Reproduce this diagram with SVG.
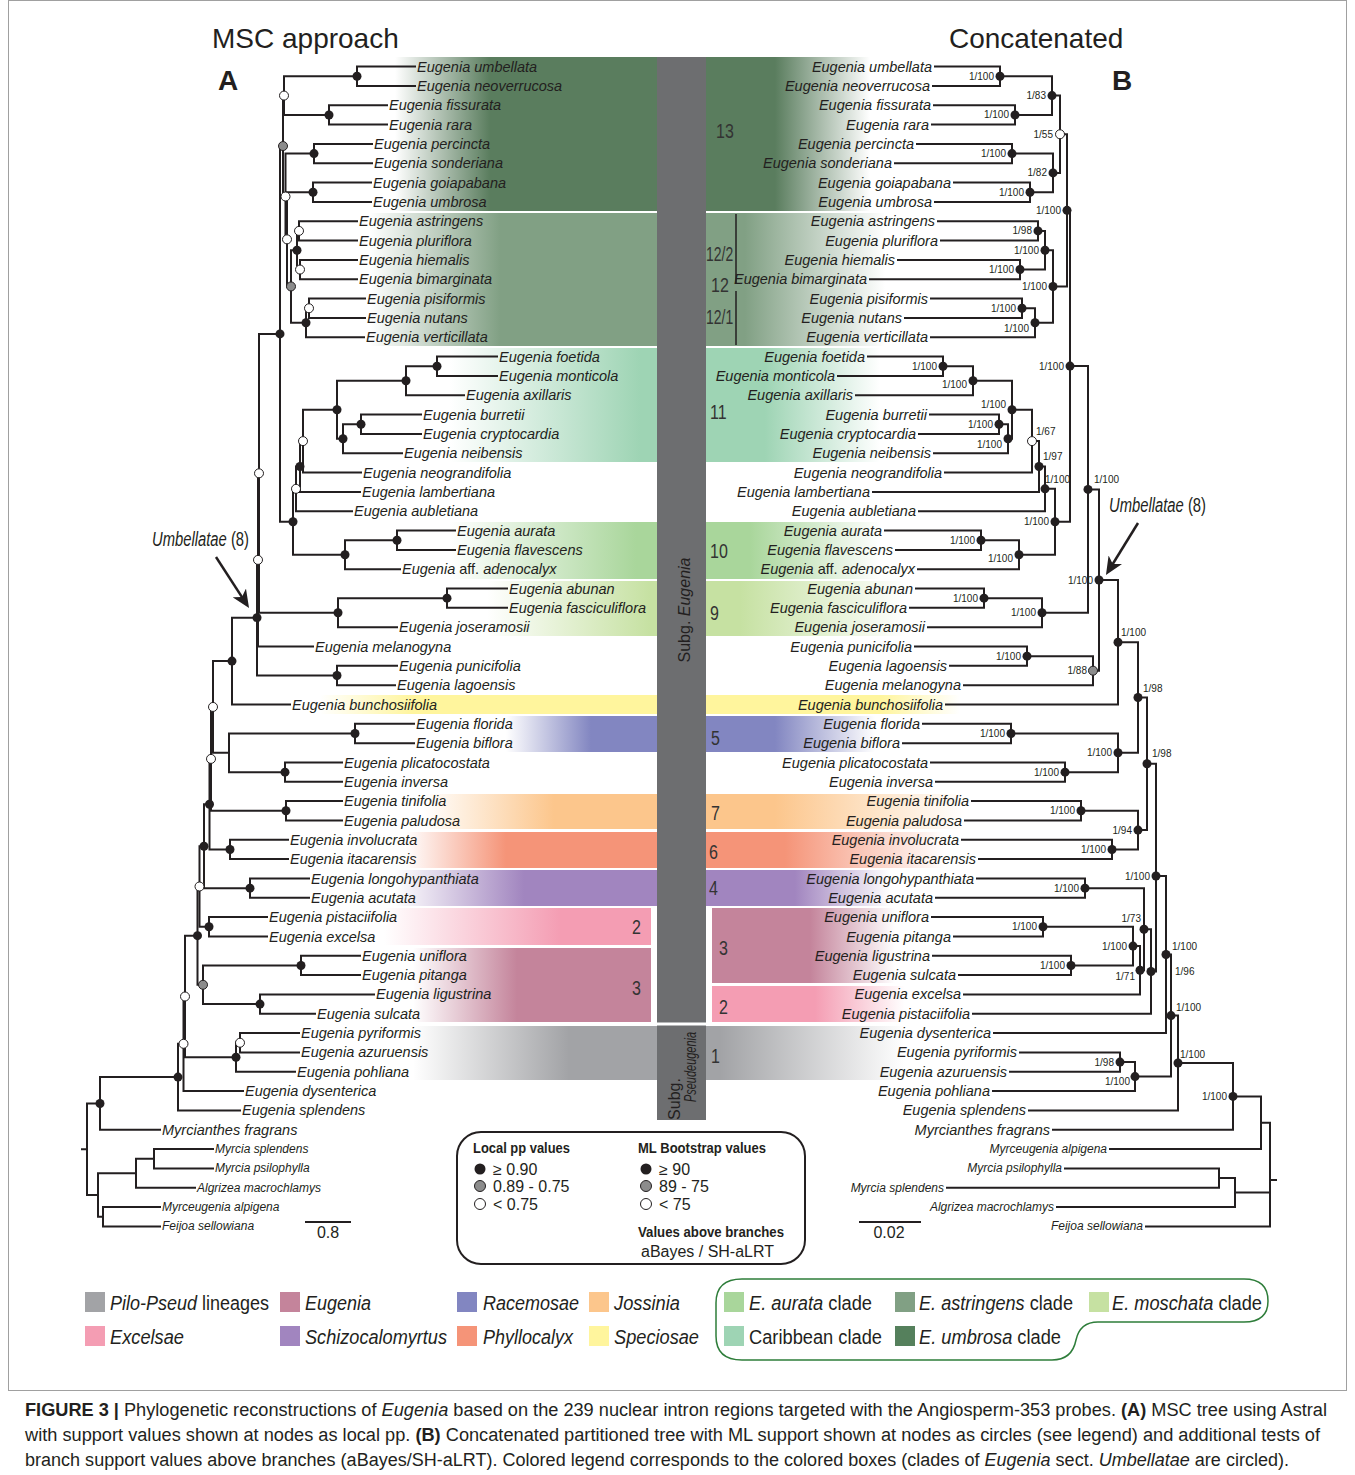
<svg xmlns="http://www.w3.org/2000/svg" width="1355" height="1475" viewBox="0 0 1355 1475">
<defs>
<style>
.ln{fill:none;stroke:#231f20;stroke-width:2;stroke-linecap:square;stroke-linejoin:miter}
.tx{font-family:'Liberation Sans',Arial,sans-serif;font-style:italic;font-size:14.5px;fill:#231f20}
.te{text-anchor:end}
.sm{font-size:12px}
.sv{font-family:'Liberation Sans',Arial,sans-serif;font-size:10px;fill:#231f20;text-anchor:end}
.svs{text-anchor:start}
.nb{fill:#231f20}
.ng{fill:#8c8c8c;stroke:#231f20;stroke-width:1}
.nw{fill:#fff;stroke:#231f20;stroke-width:1}
.num{font-family:'Liberation Sans',Arial,sans-serif;font-size:20px;fill:#333}
.hd{font-family:'Liberation Sans',Arial,sans-serif;font-size:28px;fill:#231f20}
.lg{font-family:'Liberation Sans',Arial,sans-serif;font-size:20px;fill:#231f20}
.lb{font-family:'Liberation Sans',Arial,sans-serif;font-size:15px;font-weight:bold;fill:#231f20}
.lr{font-family:'Liberation Sans',Arial,sans-serif;font-size:16px;fill:#231f20}
.it{font-style:italic}
.cap{font-family:'Liberation Sans',Arial,sans-serif;font-size:18px;fill:#231f20}
</style>
<linearGradient id="gl-umb" gradientUnits="userSpaceOnUse" x1="395" y1="0" x2="490" y2="0"><stop offset="0" stop-color="#5a7d5e" stop-opacity="0"/><stop offset="1" stop-color="#5a7d5e"/></linearGradient>
<linearGradient id="gl-ast" gradientUnits="userSpaceOnUse" x1="370" y1="0" x2="500" y2="0"><stop offset="0" stop-color="#81a084" stop-opacity="0"/><stop offset="1" stop-color="#81a084"/></linearGradient>
<linearGradient id="gl-car" gradientUnits="userSpaceOnUse" x1="450" y1="0" x2="640" y2="0"><stop offset="0" stop-color="#9ed4b4" stop-opacity="0"/><stop offset="1" stop-color="#9ed4b4"/></linearGradient>
<linearGradient id="gl-aur" gradientUnits="userSpaceOnUse" x1="450" y1="0" x2="636" y2="0"><stop offset="0" stop-color="#a9d69b" stop-opacity="0"/><stop offset="1" stop-color="#a9d69b"/></linearGradient>
<linearGradient id="gl-mos" gradientUnits="userSpaceOnUse" x1="487" y1="0" x2="650" y2="0"><stop offset="0" stop-color="#c6e1a2" stop-opacity="0"/><stop offset="1" stop-color="#c6e1a2"/></linearGradient>
<linearGradient id="gl-spe" gradientUnits="userSpaceOnUse" x1="320" y1="0" x2="413" y2="0"><stop offset="0" stop-color="#fff59d" stop-opacity="0"/><stop offset="1" stop-color="#fff59d"/></linearGradient>
<linearGradient id="gl-rac" gradientUnits="userSpaceOnUse" x1="506" y1="0" x2="591" y2="0"><stop offset="0" stop-color="#8286c1" stop-opacity="0"/><stop offset="1" stop-color="#8286c1"/></linearGradient>
<linearGradient id="gl-jos" gradientUnits="userSpaceOnUse" x1="424" y1="0" x2="554" y2="0"><stop offset="0" stop-color="#fcc68c" stop-opacity="0"/><stop offset="1" stop-color="#fcc68c"/></linearGradient>
<linearGradient id="gl-phy" gradientUnits="userSpaceOnUse" x1="406" y1="0" x2="506" y2="0"><stop offset="0" stop-color="#f59478" stop-opacity="0"/><stop offset="1" stop-color="#f59478"/></linearGradient>
<linearGradient id="gl-sch" gradientUnits="userSpaceOnUse" x1="395" y1="0" x2="524" y2="0"><stop offset="0" stop-color="#a185bf" stop-opacity="0"/><stop offset="1" stop-color="#a185bf"/></linearGradient>
<linearGradient id="gl-exc" gradientUnits="userSpaceOnUse" x1="384" y1="0" x2="561" y2="0"><stop offset="0" stop-color="#f49db3" stop-opacity="0"/><stop offset="1" stop-color="#f49db3"/></linearGradient>
<linearGradient id="gl-eug" gradientUnits="userSpaceOnUse" x1="413" y1="0" x2="517" y2="0"><stop offset="0" stop-color="#c4849b" stop-opacity="0"/><stop offset="1" stop-color="#c4849b"/></linearGradient>
<linearGradient id="gl-pil" gradientUnits="userSpaceOnUse" x1="413" y1="0" x2="569" y2="0"><stop offset="0" stop-color="#a2a3a6" stop-opacity="0"/><stop offset="1" stop-color="#a2a3a6"/></linearGradient>
<linearGradient id="gr-umb" gradientUnits="userSpaceOnUse" x1="775" y1="0" x2="870" y2="0"><stop offset="0" stop-color="#5a7d5e"/><stop offset="1" stop-color="#5a7d5e" stop-opacity="0"/></linearGradient>
<linearGradient id="gr-ast" gradientUnits="userSpaceOnUse" x1="745" y1="0" x2="885" y2="0"><stop offset="0" stop-color="#81a084"/><stop offset="1" stop-color="#81a084" stop-opacity="0"/></linearGradient>
<linearGradient id="gr-car" gradientUnits="userSpaceOnUse" x1="765" y1="0" x2="880" y2="0"><stop offset="0" stop-color="#9ed4b4"/><stop offset="1" stop-color="#9ed4b4" stop-opacity="0"/></linearGradient>
<linearGradient id="gr-aur" gradientUnits="userSpaceOnUse" x1="750" y1="0" x2="880" y2="0"><stop offset="0" stop-color="#a9d69b"/><stop offset="1" stop-color="#a9d69b" stop-opacity="0"/></linearGradient>
<linearGradient id="gr-mos" gradientUnits="userSpaceOnUse" x1="740" y1="0" x2="905" y2="0"><stop offset="0" stop-color="#c6e1a2"/><stop offset="1" stop-color="#c6e1a2" stop-opacity="0"/></linearGradient>
<linearGradient id="gr-spe" gradientUnits="userSpaceOnUse" x1="880" y1="0" x2="960" y2="0"><stop offset="0" stop-color="#fff59d"/><stop offset="1" stop-color="#fff59d" stop-opacity="0"/></linearGradient>
<linearGradient id="gr-rac" gradientUnits="userSpaceOnUse" x1="775" y1="0" x2="875" y2="0"><stop offset="0" stop-color="#8286c1"/><stop offset="1" stop-color="#8286c1" stop-opacity="0"/></linearGradient>
<linearGradient id="gr-jos" gradientUnits="userSpaceOnUse" x1="775" y1="0" x2="965" y2="0"><stop offset="0" stop-color="#fcc68c"/><stop offset="1" stop-color="#fcc68c" stop-opacity="0"/></linearGradient>
<linearGradient id="gr-phy" gradientUnits="userSpaceOnUse" x1="785" y1="0" x2="945" y2="0"><stop offset="0" stop-color="#f59478"/><stop offset="1" stop-color="#f59478" stop-opacity="0"/></linearGradient>
<linearGradient id="gr-sch" gradientUnits="userSpaceOnUse" x1="795" y1="0" x2="890" y2="0"><stop offset="0" stop-color="#a185bf"/><stop offset="1" stop-color="#a185bf" stop-opacity="0"/></linearGradient>
<linearGradient id="gr-eug" gradientUnits="userSpaceOnUse" x1="810" y1="0" x2="895" y2="0"><stop offset="0" stop-color="#c4849b"/><stop offset="1" stop-color="#c4849b" stop-opacity="0"/></linearGradient>
<linearGradient id="gr-exc" gradientUnits="userSpaceOnUse" x1="815" y1="0" x2="905" y2="0"><stop offset="0" stop-color="#f49db3"/><stop offset="1" stop-color="#f49db3" stop-opacity="0"/></linearGradient>
<linearGradient id="gr-pil" gradientUnits="userSpaceOnUse" x1="720" y1="0" x2="905" y2="0"><stop offset="0" stop-color="#a2a3a6"/><stop offset="1" stop-color="#a2a3a6" stop-opacity="0"/></linearGradient>
<marker id="ah" markerUnits="userSpaceOnUse" markerWidth="20" markerHeight="16" refX="8" refY="8" orient="auto"><path d="M0,0 L18,8 L0,16 L5,8 Z" fill="#231f20"/></marker>
</defs>
<rect x="0" y="0" width="1355" height="1475" fill="#fff"/>
<rect x="8.5" y="0.5" width="1338" height="1390" fill="none" stroke="#a0a0a0" stroke-width="1"/>

<g id="boxes-left">
<rect x="395" y="57" width="262" height="154" fill="url(#gl-umb)"/>
<rect x="370" y="213" width="287" height="133" fill="url(#gl-ast)"/>
<rect x="450" y="348" width="207" height="114" fill="url(#gl-car)"/>
<rect x="450" y="522" width="207" height="57" fill="url(#gl-aur)"/>
<rect x="487" y="581" width="170" height="55" fill="url(#gl-mos)"/>
<rect x="320" y="695" width="337" height="19" fill="url(#gl-spe)"/>
<rect x="506" y="716" width="151" height="36" fill="url(#gl-rac)"/>
<rect x="424" y="794" width="233" height="35" fill="url(#gl-jos)"/>
<rect x="406" y="832" width="251" height="36" fill="url(#gl-phy)"/>
<rect x="395" y="870" width="262" height="36" fill="url(#gl-sch)"/>
<rect x="384" y="908" width="267" height="37" fill="url(#gl-exc)"/>
<rect x="413" y="948" width="238" height="74" fill="url(#gl-eug)"/>
<rect x="413" y="1026" width="244" height="54" fill="url(#gl-pil)"/>
</g>
<g id="boxes-right">
<rect x="706" y="57" width="164" height="154" fill="url(#gr-umb)"/>
<rect x="706" y="213" width="179" height="133" fill="url(#gr-ast)"/>
<rect x="706" y="348" width="174" height="114" fill="url(#gr-car)"/>
<rect x="706" y="522" width="174" height="57" fill="url(#gr-aur)"/>
<rect x="706" y="581" width="199" height="55" fill="url(#gr-mos)"/>
<rect x="706" y="695" width="254" height="19" fill="url(#gr-spe)"/>
<rect x="706" y="716" width="169" height="36" fill="url(#gr-rac)"/>
<rect x="706" y="794" width="259" height="35" fill="url(#gr-jos)"/>
<rect x="706" y="832" width="239" height="36" fill="url(#gr-phy)"/>
<rect x="706" y="870" width="184" height="36" fill="url(#gr-sch)"/>
<rect x="712" y="908" width="183" height="75" fill="url(#gr-eug)"/>
<rect x="712" y="986" width="193" height="36" fill="url(#gr-exc)"/>
<rect x="706" y="1026" width="199" height="54" fill="url(#gr-pil)"/>
</g>

<g id="subgenus-bar">
<rect x="657" y="57" width="49" height="1063" fill="#6d6e70"/>
<line x1="650" y1="1024" x2="712" y2="1024" stroke="#fff" stroke-width="3"/>
<text class="lr" transform="translate(690,610) rotate(-90)" text-anchor="middle" font-size="19" fill="#1a1a1a">Subg. <tspan class="it">Eugenia</tspan></text>
<text class="lr" transform="translate(680,1099) rotate(-90)" text-anchor="middle" font-size="12" fill="#1a1a1a">Subg.</text>
<text class="lr it" transform="translate(696,1067) rotate(-90)" text-anchor="middle" font-size="12" textLength="70" lengthAdjust="spacingAndGlyphs" fill="#1a1a1a">Pseudeugenia</text>
</g>

<g id="clade-numbers">
<text class="num" transform="translate(716,138) scale(0.8,1)">13</text>
<text class="num" transform="translate(706,261) scale(0.7,1)">12/2</text>
<text class="num" transform="translate(711,292) scale(0.8,1)">12</text>
<text class="num" transform="translate(706,324) scale(0.7,1)">12/1</text>
<text class="num" transform="translate(710,419) scale(0.8,1)">11</text>
<text class="num" transform="translate(710,558) scale(0.8,1)">10</text>
<text class="num" transform="translate(710,620) scale(0.8,1)">9</text>
<text class="num" transform="translate(711,745) scale(0.8,1)">5</text>
<text class="num" transform="translate(711,820) scale(0.8,1)">7</text>
<text class="num" transform="translate(709,859) scale(0.8,1)">6</text>
<text class="num" transform="translate(709,895) scale(0.8,1)">4</text>
<text class="num" transform="translate(719,955) scale(0.8,1)">3</text>
<text class="num" transform="translate(719,1014) scale(0.8,1)">2</text>
<text class="num" transform="translate(711,1063) scale(0.8,1)">1</text>
<text class="num" transform="translate(632,934) scale(0.8,1)">2</text>
<text class="num" transform="translate(632,995) scale(0.8,1)">3</text>
<path d="M736 214 V284 M736 291 V345" stroke="#231f20" stroke-width="1.5" fill="none"/>
</g>

<g id="titles">
<text class="hd" x="212" y="48">MSC approach</text>
<text class="hd" x="949" y="48">Concatenated</text>
<text class="hd" x="218" y="90" font-size="19" font-weight="bold">A</text>
<text class="hd" x="1112" y="90" font-size="19" font-weight="bold">B</text>
</g>

<g id="A-connectors" class="ln">
<path d="M415 66.6 H357 V85.9 H415"/>
<path d="M387 105.3 H329 V124.6 H387"/>
<path d="M357 76.25 H284 V114.95 H329"/>
<path d="M372 143.9 H314 V163.3 H372"/>
<path d="M371 182.6 H313 V201.9 H371"/>
<path d="M357 221.2 H299 V240.6 H357"/>
<path d="M357 259.9 H300 V279.2 H357"/>
<path d="M299 230.9 H297 V269.55 H300"/>
<path d="M365 298.6 H309 V317.9 H365"/>
<path d="M309 308.25 H306 V337.2 H364"/>
<path d="M297 250.2 H291 V322.7 H306"/>
<path d="M313 192.25 H287 V286.45 H291"/>
<path d="M314 153.6 H285.5 V239.35 H287"/>
<path d="M284 95.6 H283 V196.5 H285.5"/>
<path d="M497 356.6 H437 V375.9 H497"/>
<path d="M437 366.25 H406 V395.2 H464"/>
<path d="M421 414.5 H361 V433.9 H421"/>
<path d="M361 424.2 H343 V453.2 H402"/>
<path d="M406 380.7 H337 V438.7 H343"/>
<path d="M337 409.7 H303 V472.5 H361"/>
<path d="M303 441.1 H300 V491.9 H360"/>
<path d="M300 466.5 H296 V511.2 H352"/>
<path d="M455 530.5 H397 V549.9 H455"/>
<path d="M397 540.2 H345 V569.2 H400"/>
<path d="M296 488.85 H293 V554.7 H345"/>
<path d="M283 146.05 H280 V521.8 H293"/>
<path d="M507 588.5 H447 V607.8 H507"/>
<path d="M447 598.15 H338 V627.2 H397"/>
<path d="M280 333.9 H259 V612.7 H338"/>
<path d="M259 473.3 H258 V646.5 H313"/>
<path d="M397 665.8 H337 V685.2 H395"/>
<path d="M258 559.9 H257 V675.5 H337"/>
<path d="M257 617.7 H232 V704.5 H290"/>
<path d="M414 723.8 H355 V743.2 H414"/>
<path d="M342 762.5 H285 V781.8 H342"/>
<path d="M355 733.5 H229 V772.15 H285"/>
<path d="M232 661.1 H213 V752.8 H229"/>
<path d="M342 801.1 H286 V820.5 H342"/>
<path d="M213 706.95 H211 V810.8 H286"/>
<path d="M288 839.8 H230 V859.1 H288"/>
<path d="M211 758.9 H209.5 V849.45 H230"/>
<path d="M309 878.5 H250 V897.8 H309"/>
<path d="M209.5 804.2 H204 V888.15 H250"/>
<path d="M267 917.1 H209 V936.5 H267"/>
<path d="M204 846.2 H199.5 V926.8 H209"/>
<path d="M360 955.8 H301 V975.1 H360"/>
<path d="M374 994.4 H260 V1013.8 H315"/>
<path d="M301 965.45 H203 V1004.1 H260"/>
<path d="M199.5 886.5 H197.5 V984.8 H203"/>
<path d="M299 1033.1 H240 V1052.4 H299"/>
<path d="M240 1042.75 H236 V1071.8 H295"/>
<path d="M197.5 935.65 H185 V1057.3 H236"/>
<path d="M185 996.5 H183.5 V1091.1 H243"/>
<path d="M183.5 1043.8 H178 V1110.4 H240"/>
<path d="M178 1077.1 H100 V1129.8 H160"/>
<path d="M213 1149.1 H154 V1168.4 H213"/>
<path d="M154 1158.75 H136 V1187.7 H195"/>
<path d="M160 1207.1 H103 V1226.4 H160"/>
<path d="M136 1173.2 H98 V1216.75 H103"/>
<path d="M100 1103.45 H87 V1195 H98 M82 1149.2 H87"/>
</g>

<g id="A-nodes">
<g id="A-n1"><circle class="nb" cx="357" cy="76.25" r="4.5"/></g>
<g id="A-n2"><circle class="nw" cx="284" cy="95.6" r="4.5"/></g>
<g id="A-n3"><circle class="nb" cx="329" cy="114.95" r="4.5"/></g>
<g id="A-n4"><circle class="ng" cx="283" cy="146.05" r="4.5"/></g>
<g id="A-n5"><circle class="nb" cx="314" cy="153.6" r="4.5"/></g>
<g id="A-n6"><circle class="nb" cx="313" cy="192.25" r="4.5"/></g>
<g id="A-n7"><circle class="nw" cx="285.5" cy="196.5" r="4.5"/></g>
<g id="A-n8"><circle class="nw" cx="299" cy="230.9" r="4.5"/></g>
<g id="A-n9"><circle class="nw" cx="287" cy="239.35" r="4.5"/></g>
<g id="A-n10"><circle class="nb" cx="297" cy="250.2" r="4.5"/></g>
<g id="A-n11"><circle class="nw" cx="300" cy="269.55" r="4.5"/></g>
<g id="A-n12"><circle class="ng" cx="291" cy="286.45" r="4.5"/></g>
<g id="A-n13"><circle class="nw" cx="309" cy="308.25" r="4.5"/></g>
<g id="A-n14"><circle class="nb" cx="306" cy="322.7" r="4.5"/></g>
<g id="A-n15"><circle class="nb" cx="280" cy="333.9" r="4.5"/></g>
<g id="A-n16"><circle class="nb" cx="437" cy="366.25" r="4.5"/></g>
<g id="A-n17"><circle class="nb" cx="406" cy="380.7" r="4.5"/></g>
<g id="A-n18"><circle class="nb" cx="337" cy="409.7" r="4.5"/></g>
<g id="A-n19"><circle class="nb" cx="361" cy="424.2" r="4.5"/></g>
<g id="A-n20"><circle class="nb" cx="343" cy="438.7" r="4.5"/></g>
<g id="A-n21"><circle class="nw" cx="303" cy="441.1" r="4.5"/></g>
<g id="A-n22"><circle class="nb" cx="300" cy="466.5" r="4.5"/></g>
<g id="A-n23"><circle class="nw" cx="259" cy="473.3" r="4.5"/></g>
<g id="A-n24"><circle class="nw" cx="296" cy="488.85" r="4.5"/></g>
<g id="A-n25"><circle class="nb" cx="293" cy="521.8" r="4.5"/></g>
<g id="A-n26"><circle class="nb" cx="397" cy="540.2" r="4.5"/></g>
<g id="A-n27"><circle class="nb" cx="345" cy="554.7" r="4.5"/></g>
<g id="A-n28"><circle class="nw" cx="258" cy="559.9" r="4.5"/></g>
<g id="A-n29"><circle class="nb" cx="447" cy="598.15" r="4.5"/></g>
<g id="A-n30"><circle class="nb" cx="338" cy="612.7" r="4.5"/></g>
<g id="A-n31"><circle class="nb" cx="257" cy="617.7" r="4.5"/></g>
<g id="A-n32"><circle class="nb" cx="232" cy="661.1" r="4.5"/></g>
<g id="A-n33"><circle class="nb" cx="337" cy="675.5" r="4.5"/></g>
<g id="A-n34"><circle class="nw" cx="213" cy="706.95" r="4.5"/></g>
<g id="A-n35"><circle class="nb" cx="355" cy="733.5" r="4.5"/></g>
<g id="A-n36"><circle class="nw" cx="211" cy="758.9" r="4.5"/></g>
<g id="A-n37"><circle class="nb" cx="285" cy="772.15" r="4.5"/></g>
<g id="A-n38"><circle class="nb" cx="209.5" cy="804.2" r="4.5"/></g>
<g id="A-n39"><circle class="nb" cx="286" cy="810.8" r="4.5"/></g>
<g id="A-n40"><circle class="nb" cx="204" cy="846.2" r="4.5"/></g>
<g id="A-n41"><circle class="nb" cx="230" cy="849.45" r="4.5"/></g>
<g id="A-n42"><circle class="nw" cx="199.5" cy="886.5" r="4.5"/></g>
<g id="A-n43"><circle class="nb" cx="250" cy="888.15" r="4.5"/></g>
<g id="A-n44"><circle class="nb" cx="209" cy="926.8" r="4.5"/></g>
<g id="A-n45"><circle class="nb" cx="197.5" cy="935.65" r="4.5"/></g>
<g id="A-n46"><circle class="nb" cx="301" cy="965.45" r="4.5"/></g>
<g id="A-n47"><circle class="ng" cx="203" cy="984.8" r="4.5"/></g>
<g id="A-n48"><circle class="nw" cx="185" cy="996.5" r="4.5"/></g>
<g id="A-n49"><circle class="nb" cx="260" cy="1004.1" r="4.5"/></g>
<g id="A-n50"><circle class="nw" cx="240" cy="1042.75" r="4.5"/></g>
<g id="A-n51"><circle class="nw" cx="183.5" cy="1043.8" r="4.5"/></g>
<g id="A-n52"><circle class="nb" cx="236" cy="1057.3" r="4.5"/></g>
<g id="A-n53"><circle class="nb" cx="178" cy="1077.1" r="4.5"/></g>
<g id="A-n54"><circle class="nb" cx="100" cy="1103.45" r="4.5"/></g>
</g>

<g id="A-leaves" class="tx">
<g id="A-umbellata"><text x="417" y="71.6">Eugenia umbellata</text></g>
<g id="A-neoverrucosa"><text x="417" y="90.9">Eugenia neoverrucosa</text></g>
<g id="A-fissurata"><text x="389" y="110.3">Eugenia fissurata</text></g>
<g id="A-rara"><text x="389" y="129.6">Eugenia rara</text></g>
<g id="A-percincta"><text x="374" y="148.9">Eugenia percincta</text></g>
<g id="A-sonderiana"><text x="374" y="168.3">Eugenia sonderiana</text></g>
<g id="A-goiapabana"><text x="373" y="187.6">Eugenia goiapabana</text></g>
<g id="A-umbrosa"><text x="373" y="206.9">Eugenia umbrosa</text></g>
<g id="A-astringens"><text x="359" y="226.2">Eugenia astringens</text></g>
<g id="A-pluriflora"><text x="359" y="245.6">Eugenia pluriflora</text></g>
<g id="A-hiemalis"><text x="359" y="264.9">Eugenia hiemalis</text></g>
<g id="A-bimarginata"><text x="359" y="284.2">Eugenia bimarginata</text></g>
<g id="A-pisiformis"><text x="367" y="303.6">Eugenia pisiformis</text></g>
<g id="A-nutans"><text x="367" y="322.9">Eugenia nutans</text></g>
<g id="A-verticillata"><text x="366" y="342.2">Eugenia verticillata</text></g>
<g id="A-foetida"><text x="499" y="361.6">Eugenia foetida</text></g>
<g id="A-monticola"><text x="499" y="380.9">Eugenia monticola</text></g>
<g id="A-axillaris"><text x="466" y="400.2">Eugenia axillaris</text></g>
<g id="A-burretii"><text x="423" y="419.5">Eugenia burretii</text></g>
<g id="A-cryptocardia"><text x="423" y="438.9">Eugenia cryptocardia</text></g>
<g id="A-neibensis"><text x="404" y="458.2">Eugenia neibensis</text></g>
<g id="A-neograndifolia"><text x="363" y="477.5">Eugenia neograndifolia</text></g>
<g id="A-lambertiana"><text x="362" y="496.9">Eugenia lambertiana</text></g>
<g id="A-aubletiana"><text x="354" y="516.2">Eugenia aubletiana</text></g>
<g id="A-aurata"><text x="457" y="535.5">Eugenia aurata</text></g>
<g id="A-flavescens"><text x="457" y="554.9">Eugenia flavescens</text></g>
<g id="A-adenocalyx"><text x="402" y="574.2">Eugenia <tspan font-style="normal">aff.</tspan> adenocalyx</text></g>
<g id="A-abunan"><text x="509" y="593.5">Eugenia abunan</text></g>
<g id="A-fasciculiflora"><text x="509" y="612.8">Eugenia fasciculiflora</text></g>
<g id="A-joseramosii"><text x="399" y="632.2">Eugenia joseramosii</text></g>
<g id="A-melanogyna"><text x="315" y="651.5">Eugenia melanogyna</text></g>
<g id="A-punicifolia"><text x="399" y="670.8">Eugenia punicifolia</text></g>
<g id="A-lagoensis"><text x="397" y="690.2">Eugenia lagoensis</text></g>
<g id="A-bunchosiifolia"><text x="292" y="709.5">Eugenia bunchosiifolia</text></g>
<g id="A-florida"><text x="416" y="728.8">Eugenia florida</text></g>
<g id="A-biflora"><text x="416" y="748.2">Eugenia biflora</text></g>
<g id="A-plicatocostata"><text x="344" y="767.5">Eugenia plicatocostata</text></g>
<g id="A-inversa"><text x="344" y="786.8">Eugenia inversa</text></g>
<g id="A-tinifolia"><text x="344" y="806.1">Eugenia tinifolia</text></g>
<g id="A-paludosa"><text x="344" y="825.5">Eugenia paludosa</text></g>
<g id="A-involucrata"><text x="290" y="844.8">Eugenia involucrata</text></g>
<g id="A-itacarensis"><text x="290" y="864.1">Eugenia itacarensis</text></g>
<g id="A-longohypanthiata"><text x="311" y="883.5">Eugenia longohypanthiata</text></g>
<g id="A-acutata"><text x="311" y="902.8">Eugenia acutata</text></g>
<g id="A-pistaciifolia"><text x="269" y="922.1">Eugenia pistaciifolia</text></g>
<g id="A-excelsa"><text x="269" y="941.5">Eugenia excelsa</text></g>
<g id="A-uniflora"><text x="362" y="960.8">Eugenia uniflora</text></g>
<g id="A-pitanga"><text x="362" y="980.1">Eugenia pitanga</text></g>
<g id="A-ligustrina"><text x="376" y="999.4">Eugenia ligustrina</text></g>
<g id="A-sulcata"><text x="317" y="1018.8">Eugenia sulcata</text></g>
<g id="A-pyriformis"><text x="301" y="1038.1">Eugenia pyriformis</text></g>
<g id="A-azuruensis"><text x="301" y="1057.4">Eugenia azuruensis</text></g>
<g id="A-pohliana"><text x="297" y="1076.8">Eugenia pohliana</text></g>
<g id="A-dysenterica"><text x="245" y="1096.1">Eugenia dysenterica</text></g>
<g id="A-splendens"><text x="242" y="1115.4">Eugenia splendens</text></g>
<g id="A-myrcianthes"><text x="162" y="1134.8">Myrcianthes fragrans</text></g>
<g id="A-myrcia-splendens"><text class="sm" x="215" y="1153.1">Myrcia splendens</text></g>
<g id="A-myrcia-psilophylla"><text class="sm" x="215" y="1172.4">Myrcia psilophylla</text></g>
<g id="A-algrizea"><text class="sm" x="197" y="1191.7">Algrizea macrochlamys</text></g>
<g id="A-myrceugenia"><text class="sm" x="162" y="1211.1">Myrceugenia alpigena</text></g>
<g id="A-feijoa"><text class="sm" x="162" y="1230.4">Feijoa sellowiana</text></g>
</g>

<g id="B-connectors" class="ln">
<path d="M935 66.6 H1000 V85.9 H933"/>
<path d="M934 105.3 H1015 V124.6 H932"/>
<path d="M1000 76.25 H1052 V114.95 H1015"/>
<path d="M917 143.9 H1012 V163.3 H895"/>
<path d="M954 182.6 H1030 V201.9 H935"/>
<path d="M1012 153.6 H1053 V192.25 H1030"/>
<path d="M1052 95.6 H1060 V172.9 H1053"/>
<path d="M938 221.2 H1038 V240.6 H941"/>
<path d="M898 259.9 H1020 V279.2 H870"/>
<path d="M1038 230.9 H1045 V269.55 H1020"/>
<path d="M931 298.6 H1022 V317.9 H905"/>
<path d="M1022 308.25 H1035 V337.2 H931"/>
<path d="M1045 250.2 H1053 V322.7 H1035"/>
<path d="M1060 134.25 H1067 V286.45 H1053"/>
<path d="M868 356.6 H943 V375.9 H838"/>
<path d="M943 366.25 H973 V395.2 H856"/>
<path d="M930 414.5 H999 V433.9 H919"/>
<path d="M999 424.2 H1008 V453.2 H934"/>
<path d="M973 380.7 H1012 V438.7 H1008"/>
<path d="M1012 409.7 H1032 V472.5 H945"/>
<path d="M1032 441.1 H1039 V491.9 H873"/>
<path d="M1039 466.5 H1045 V511.2 H919"/>
<path d="M885 530.5 H981 V549.9 H896"/>
<path d="M981 540.2 H1019 V569.2 H918"/>
<path d="M1045 488.85 H1055 V554.7 H1019"/>
<path d="M1067 210.35 H1070 V521.8 H1055"/>
<path d="M916 588.5 H984 V607.8 H910"/>
<path d="M984 598.15 H1042 V627.2 H928"/>
<path d="M1070 366.1 H1088 V612.7 H1042"/>
<path d="M915 646.5 H1027 V665.8 H950"/>
<path d="M1027 656.15 H1093 V685.2 H964"/>
<path d="M1088 489.4 H1099 V670.7 H1093"/>
<path d="M1099 580.05 H1118 V704.5 H946"/>
<path d="M923 723.8 H1011 V743.2 H903"/>
<path d="M931 762.5 H1065 V781.8 H936"/>
<path d="M1011 733.5 H1118 V772.15 H1065"/>
<path d="M1118 642.3 H1138 V752.8 H1118"/>
<path d="M972 801.1 H1081 V820.5 H965"/>
<path d="M962 839.8 H1112 V859.1 H979"/>
<path d="M1081 810.8 H1138 V849.45 H1112"/>
<path d="M1138 697.55 H1147 V830.1 H1138"/>
<path d="M977 878.5 H1085 V897.8 H936"/>
<path d="M932 917.1 H1043 V936.5 H954"/>
<path d="M933 955.8 H1071 V975.1 H959"/>
<path d="M1043 926.8 H1133 V965.45 H1071"/>
<path d="M1133 946.1 H1140 V994.4 H964"/>
<path d="M1085 888.15 H1144 V970.25 H1140"/>
<path d="M1144 929.2 H1151 V1013.8 H973"/>
<path d="M1147 763.8 H1156 V971.5 H1151"/>
<path d="M1156 876 H1166 V1033.1 H994"/>
<path d="M1020 1052.4 H1120 V1071.8 H1010"/>
<path d="M1120 1062.1 H1135 V1091.1 H993"/>
<path d="M1166 954.55 H1171 V1076.6 H1135"/>
<path d="M1171 1015.6 H1178 V1110.4 H1029"/>
<path d="M1178 1063 H1233 V1129.8 H1053"/>
<path d="M1233 1096.4 H1261 V1149.1 H1110"/>
<path d="M1065 1168.4 H1219 V1187.7 H947"/>
<path d="M1219 1178.05 H1235 V1207.1 H1057"/>
<path d="M1261 1122.75 H1270 V1226.4 H1146 M1235 1192.6 H1270 M1270 1180 H1276"/>
</g>

<g id="B-nodes">
<g id="B-n1"><circle class="nb" cx="1000" cy="76.25" r="4.5"/><text class="sv" x="994" y="79.75">1/100</text></g>
<g id="B-n2"><circle class="nb" cx="1015" cy="114.95" r="4.5"/><text class="sv" x="1009" y="118.45">1/100</text></g>
<g id="B-n3"><circle class="nb" cx="1052" cy="95.6" r="4.5"/><text class="sv" x="1046" y="99.1">1/83</text></g>
<g id="B-n4"><circle class="nw" cx="1060" cy="134.25" r="4.5"/><text class="sv" x="1053" y="137.75">1/55</text></g>
<g id="B-n5"><circle class="nb" cx="1012" cy="153.6" r="4.5"/><text class="sv" x="1006" y="157.1">1/100</text></g>
<g id="B-n6"><circle class="nb" cx="1030" cy="192.25" r="4.5"/><text class="sv" x="1024" y="195.75">1/100</text></g>
<g id="B-n7"><circle class="nb" cx="1053" cy="172.9" r="4.5"/><text class="sv" x="1047" y="176.4">1/82</text></g>
<g id="B-n8"><circle class="nb" cx="1067" cy="210.35" r="4.5"/><text class="sv" x="1061" y="213.85">1/100</text></g>
<g id="B-n9"><circle class="nb" cx="1038" cy="230.9" r="4.5"/><text class="sv" x="1032" y="234.4">1/98</text></g>
<g id="B-n10"><circle class="nb" cx="1020" cy="269.55" r="4.5"/><text class="sv" x="1014" y="273.05">1/100</text></g>
<g id="B-n11"><circle class="nb" cx="1045" cy="250.2" r="4.5"/><text class="sv" x="1039" y="253.7">1/100</text></g>
<g id="B-n12"><circle class="nb" cx="1022" cy="308.25" r="4.5"/><text class="sv" x="1016" y="311.75">1/100</text></g>
<g id="B-n13"><circle class="nb" cx="1035" cy="322.7" r="4.5"/><text class="sv" x="1029" y="331.5">1/100</text></g>
<g id="B-n14"><circle class="nb" cx="1053" cy="286.45" r="4.5"/><text class="sv" x="1047" y="289.95">1/100</text></g>
<g id="B-n15"><circle class="nb" cx="1070" cy="366.1" r="4.5"/><text class="sv" x="1064" y="369.6">1/100</text></g>
<g id="B-n16"><circle class="nb" cx="943" cy="366.25" r="4.5"/><text class="sv" x="937" y="369.75">1/100</text></g>
<g id="B-n17"><circle class="nb" cx="973" cy="380.7" r="4.5"/><text class="sv" x="967" y="387.5">1/100</text></g>
<g id="B-n18"><circle class="nb" cx="999" cy="424.2" r="4.5"/><text class="sv" x="993" y="427.7">1/100</text></g>
<g id="B-n19"><circle class="nb" cx="1008" cy="438.7" r="4.5"/><text class="sv" x="1002" y="447.5">1/100</text></g>
<g id="B-n20"><circle class="nb" cx="1012" cy="409.7" r="4.5"/><text class="sv" x="1006" y="408">1/100</text></g>
<g id="B-n21"><circle class="nw" cx="1032" cy="441.1" r="4.5"/><text class="sv svs" x="1036" y="435">1/67</text></g>
<g id="B-n22"><circle class="nb" cx="1039" cy="466.5" r="4.5"/><text class="sv svs" x="1043" y="460">1/97</text></g>
<g id="B-n23"><circle class="nb" cx="1045" cy="488.85" r="4.5"/><text class="sv svs" x="1045" y="483">1/100</text></g>
<g id="B-n24"><circle class="nb" cx="981" cy="540.2" r="4.5"/><text class="sv" x="975" y="543.7">1/100</text></g>
<g id="B-n25"><circle class="nb" cx="1019" cy="554.7" r="4.5"/><text class="sv" x="1013" y="561.5">1/100</text></g>
<g id="B-n26"><circle class="nb" cx="1055" cy="521.8" r="4.5"/><text class="sv" x="1049" y="525.3">1/100</text></g>
<g id="B-n27"><circle class="nb" cx="984" cy="598.15" r="4.5"/><text class="sv" x="978" y="601.65">1/100</text></g>
<g id="B-n28"><circle class="nb" cx="1042" cy="612.7" r="4.5"/><text class="sv" x="1036" y="616.2">1/100</text></g>
<g id="B-n29"><circle class="nb" cx="1088" cy="489.4" r="4.5"/><text class="sv svs" x="1094" y="483">1/100</text></g>
<g id="B-n30"><circle class="nb" cx="1027" cy="656.15" r="4.5"/><text class="sv" x="1021" y="659.65">1/100</text></g>
<g id="B-n31"><circle class="ng" cx="1093" cy="670.7" r="4.5"/><text class="sv" x="1087" y="674.2">1/88</text></g>
<g id="B-n32"><circle class="nb" cx="1099" cy="580.05" r="4.5"/><text class="sv" x="1093" y="583.55">1/100</text></g>
<g id="B-n33"><circle class="nb" cx="1118" cy="642.3" r="4.5"/><text class="sv svs" x="1121" y="636">1/100</text></g>
<g id="B-n34"><circle class="nb" cx="1011" cy="733.5" r="4.5"/><text class="sv" x="1005" y="737">1/100</text></g>
<g id="B-n35"><circle class="nb" cx="1065" cy="772.15" r="4.5"/><text class="sv" x="1059" y="775.65">1/100</text></g>
<g id="B-n36"><circle class="nb" cx="1118" cy="752.8" r="4.5"/><text class="sv" x="1112" y="756.3">1/100</text></g>
<g id="B-n37"><circle class="nb" cx="1138" cy="697.55" r="4.5"/><text class="sv svs" x="1143" y="692">1/98</text></g>
<g id="B-n38"><circle class="nb" cx="1081" cy="810.8" r="4.5"/><text class="sv" x="1075" y="814.3">1/100</text></g>
<g id="B-n39"><circle class="nb" cx="1112" cy="849.45" r="4.5"/><text class="sv" x="1106" y="852.95">1/100</text></g>
<g id="B-n40"><circle class="nb" cx="1138" cy="830.1" r="4.5"/><text class="sv" x="1132" y="833.6">1/94</text></g>
<g id="B-n41"><circle class="nb" cx="1147" cy="763.8" r="4.5"/><text class="sv svs" x="1152" y="757">1/98</text></g>
<g id="B-n42"><circle class="nb" cx="1085" cy="888.15" r="4.5"/><text class="sv" x="1079" y="891.65">1/100</text></g>
<g id="B-n43"><circle class="nb" cx="1043" cy="926.8" r="4.5"/><text class="sv" x="1037" y="930.3">1/100</text></g>
<g id="B-n44"><circle class="nb" cx="1071" cy="965.45" r="4.5"/><text class="sv" x="1065" y="968.95">1/100</text></g>
<g id="B-n45"><circle class="nb" cx="1133" cy="946.1" r="4.5"/><text class="sv" x="1127" y="949.6">1/100</text></g>
<g id="B-n46"><circle class="nb" cx="1140" cy="970.25" r="4.5"/><text class="sv" x="1135" y="980">1/71</text></g>
<g id="B-n47"><circle class="nb" cx="1144" cy="929.2" r="4.5"/><text class="sv" x="1141" y="922">1/73</text></g>
<g id="B-n48"><circle class="nb" cx="1151" cy="971.5" r="4.5"/><text class="sv svs" x="1175" y="975">1/96</text></g>
<g id="B-n49"><circle class="nb" cx="1156" cy="876" r="4.5"/><text class="sv" x="1150" y="879.5">1/100</text></g>
<g id="B-n50"><circle class="nb" cx="1166" cy="954.55" r="4.5"/><text class="sv svs" x="1172" y="950">1/100</text></g>
<g id="B-n51"><circle class="nb" cx="1120" cy="1062.1" r="4.5"/><text class="sv" x="1114" y="1065.6">1/98</text></g>
<g id="B-n52"><circle class="nb" cx="1135" cy="1076.6" r="4.5"/><text class="sv" x="1130" y="1085">1/100</text></g>
<g id="B-n53"><circle class="nb" cx="1171" cy="1015.6" r="4.5"/><text class="sv svs" x="1176" y="1011">1/100</text></g>
<g id="B-n54"><circle class="nb" cx="1178" cy="1063" r="4.5"/><text class="sv svs" x="1180" y="1058">1/100</text></g>
<g id="B-n55"><circle class="nb" cx="1233" cy="1096.4" r="4.5"/><text class="sv" x="1227" y="1099.9">1/100</text></g>
</g>

<g id="B-leaves" class="tx te">
<g id="B-umbellata"><text x="932" y="71.6">Eugenia umbellata</text></g>
<g id="B-neoverrucosa"><text x="930" y="90.9">Eugenia neoverrucosa</text></g>
<g id="B-fissurata"><text x="931" y="110.3">Eugenia fissurata</text></g>
<g id="B-rara"><text x="929" y="129.6">Eugenia rara</text></g>
<g id="B-percincta"><text x="914" y="148.9">Eugenia percincta</text></g>
<g id="B-sonderiana"><text x="892" y="168.3">Eugenia sonderiana</text></g>
<g id="B-goiapabana"><text x="951" y="187.6">Eugenia goiapabana</text></g>
<g id="B-umbrosa"><text x="932" y="206.9">Eugenia umbrosa</text></g>
<g id="B-astringens"><text x="935" y="226.2">Eugenia astringens</text></g>
<g id="B-pluriflora"><text x="938" y="245.6">Eugenia pluriflora</text></g>
<g id="B-hiemalis"><text x="895" y="264.9">Eugenia hiemalis</text></g>
<g id="B-bimarginata"><text x="867" y="284.2">Eugenia bimarginata</text></g>
<g id="B-pisiformis"><text x="928" y="303.6">Eugenia pisiformis</text></g>
<g id="B-nutans"><text x="902" y="322.9">Eugenia nutans</text></g>
<g id="B-verticillata"><text x="928" y="342.2">Eugenia verticillata</text></g>
<g id="B-foetida"><text x="865" y="361.6">Eugenia foetida</text></g>
<g id="B-monticola"><text x="835" y="380.9">Eugenia monticola</text></g>
<g id="B-axillaris"><text x="853" y="400.2">Eugenia axillaris</text></g>
<g id="B-burretii"><text x="927" y="419.5">Eugenia burretii</text></g>
<g id="B-cryptocardia"><text x="916" y="438.9">Eugenia cryptocardia</text></g>
<g id="B-neibensis"><text x="931" y="458.2">Eugenia neibensis</text></g>
<g id="B-neograndifolia"><text x="942" y="477.5">Eugenia neograndifolia</text></g>
<g id="B-lambertiana"><text x="870" y="496.9">Eugenia lambertiana</text></g>
<g id="B-aubletiana"><text x="916" y="516.2">Eugenia aubletiana</text></g>
<g id="B-aurata"><text x="882" y="535.5">Eugenia aurata</text></g>
<g id="B-flavescens"><text x="893" y="554.9">Eugenia flavescens</text></g>
<g id="B-adenocalyx"><text x="915" y="574.2">Eugenia <tspan font-style="normal">aff.</tspan> adenocalyx</text></g>
<g id="B-abunan"><text x="913" y="593.5">Eugenia abunan</text></g>
<g id="B-fasciculiflora"><text x="907" y="612.8">Eugenia fasciculiflora</text></g>
<g id="B-joseramosii"><text x="925" y="632.2">Eugenia joseramosii</text></g>
<g id="B-punicifolia"><text x="912" y="651.5">Eugenia punicifolia</text></g>
<g id="B-lagoensis"><text x="947" y="670.8">Eugenia lagoensis</text></g>
<g id="B-melanogyna"><text x="961" y="690.2">Eugenia melanogyna</text></g>
<g id="B-bunchosiifolia"><text x="943" y="709.5">Eugenia bunchosiifolia</text></g>
<g id="B-florida"><text x="920" y="728.8">Eugenia florida</text></g>
<g id="B-biflora"><text x="900" y="748.2">Eugenia biflora</text></g>
<g id="B-plicatocostata"><text x="928" y="767.5">Eugenia plicatocostata</text></g>
<g id="B-inversa"><text x="933" y="786.8">Eugenia inversa</text></g>
<g id="B-tinifolia"><text x="969" y="806.1">Eugenia tinifolia</text></g>
<g id="B-paludosa"><text x="962" y="825.5">Eugenia paludosa</text></g>
<g id="B-involucrata"><text x="959" y="844.8">Eugenia involucrata</text></g>
<g id="B-itacarensis"><text x="976" y="864.1">Eugenia itacarensis</text></g>
<g id="B-longohypanthiata"><text x="974" y="883.5">Eugenia longohypanthiata</text></g>
<g id="B-acutata"><text x="933" y="902.8">Eugenia acutata</text></g>
<g id="B-uniflora"><text x="929" y="922.1">Eugenia uniflora</text></g>
<g id="B-pitanga"><text x="951" y="941.5">Eugenia pitanga</text></g>
<g id="B-ligustrina"><text x="930" y="960.8">Eugenia ligustrina</text></g>
<g id="B-sulcata"><text x="956" y="980.1">Eugenia sulcata</text></g>
<g id="B-excelsa"><text x="961" y="999.4">Eugenia excelsa</text></g>
<g id="B-pistaciifolia"><text x="970" y="1018.8">Eugenia pistaciifolia</text></g>
<g id="B-dysenterica"><text x="991" y="1038.1">Eugenia dysenterica</text></g>
<g id="B-pyriformis"><text x="1017" y="1057.4">Eugenia pyriformis</text></g>
<g id="B-azuruensis"><text x="1007" y="1076.8">Eugenia azuruensis</text></g>
<g id="B-pohliana"><text x="990" y="1096.1">Eugenia pohliana</text></g>
<g id="B-splendens"><text x="1026" y="1115.4">Eugenia splendens</text></g>
<g id="B-myrcianthes"><text x="1050" y="1134.8">Myrcianthes fragrans</text></g>
<g id="B-myrceugenia"><text class="sm" x="1107" y="1153.1">Myrceugenia alpigena</text></g>
<g id="B-myrcia-psilophylla"><text class="sm" x="1062" y="1172.4">Myrcia psilophylla</text></g>
<g id="B-myrcia-splendens"><text class="sm" x="944" y="1191.7">Myrcia splendens</text></g>
<g id="B-algrizea"><text class="sm" x="1054" y="1211.1">Algrizea macrochlamys</text></g>
<g id="B-feijoa"><text class="sm" x="1143" y="1230.4">Feijoa sellowiana</text></g>
</g>

<g id="umbellatae-labels">
<text class="lg" x="152" y="546" font-size="18" textLength="97" lengthAdjust="spacingAndGlyphs"><tspan class="it">Umbellatae</tspan> (8)</text>
<line x1="216" y1="557" x2="243.6" y2="599.6" stroke="#231f20" stroke-width="2.5" marker-end="url(#ah)"/>
<text class="lg" x="1109" y="512" font-size="18" textLength="97" lengthAdjust="spacingAndGlyphs"><tspan class="it">Umbellatae</tspan> (8)</text>
<line x1="1138" y1="523" x2="1111.2" y2="566.5" stroke="#231f20" stroke-width="2.5" marker-end="url(#ah)"/>
</g>

<g id="scale-bars">
<path d="M305 1222 H351 M859 1222 H921" stroke="#231f20" stroke-width="2" fill="none"/>
<text class="lr" x="328" y="1238" font-size="12" text-anchor="middle">0.8</text>
<text class="lr" x="889" y="1238" font-size="12" text-anchor="middle">0.02</text>
</g>

<g id="support-legend">
<rect x="457" y="1132" width="348" height="132" rx="24" fill="#fff" stroke="#231f20" stroke-width="2"/>
<text class="lb" x="473" y="1153" textLength="97" lengthAdjust="spacingAndGlyphs">Local pp values</text>
<circle class="nb" cx="480" cy="1169" r="5.5"/><text class="lr" x="493" y="1175">≥ 0.90</text>
<circle class="ng" cx="480" cy="1186" r="5.5"/><text class="lr" x="493" y="1192">0.89 - 0.75</text>
<circle class="nw" cx="480" cy="1204" r="5.5"/><text class="lr" x="493" y="1210">&lt; 0.75</text>
<text class="lb" x="638" y="1153" textLength="128" lengthAdjust="spacingAndGlyphs">ML Bootstrap values</text>
<circle class="nb" cx="646" cy="1169" r="5.5"/><text class="lr" x="659" y="1175">≥ 90</text>
<circle class="ng" cx="646" cy="1186" r="5.5"/><text class="lr" x="659" y="1192">89 - 75</text>
<circle class="nw" cx="646" cy="1204" r="5.5"/><text class="lr" x="659" y="1210">&lt; 75</text>
<text class="lb" x="638" y="1237" textLength="146" lengthAdjust="spacingAndGlyphs">Values above branches</text>
<text class="lr" x="641" y="1257" textLength="133" lengthAdjust="spacingAndGlyphs">aBayes / SH-aLRT</text>
</g>

<g id="color-legend">
<path d="M742 1279 H1244 Q1268 1279 1268 1301 Q1268 1322 1244 1322 H1098 Q1080 1322 1076 1340 Q1072 1360 1052 1360 H742 Q716 1360 716 1336 V1303 Q716 1279 742 1279 Z" fill="none" stroke="#2e7d3a" stroke-width="1.5"/>
<rect x="85" y="1292" width="20" height="20" fill="#a2a3a6"/>
<text class="lg" x="110" y="1310" textLength="159" lengthAdjust="spacingAndGlyphs"><tspan class="it">Pilo-Pseud</tspan> lineages</text>
<rect x="280" y="1292" width="20" height="20" fill="#c4849b"/>
<text class="lg it" x="305" y="1310" textLength="66" lengthAdjust="spacingAndGlyphs">Eugenia</text>
<rect x="457" y="1292" width="20" height="20" fill="#8286c1"/>
<text class="lg it" x="483" y="1310" textLength="96" lengthAdjust="spacingAndGlyphs">Racemosae</text>
<rect x="589" y="1292" width="20" height="20" fill="#fcc68c"/>
<text class="lg it" x="614" y="1310" textLength="66" lengthAdjust="spacingAndGlyphs">Jossinia</text>
<rect x="724" y="1292" width="20" height="20" fill="#a9d69b"/>
<text class="lg" x="749" y="1310" textLength="123" lengthAdjust="spacingAndGlyphs"><tspan class="it">E. aurata</tspan> clade</text>
<rect x="895" y="1292" width="20" height="20" fill="#81a084"/>
<text class="lg" x="919" y="1310" textLength="154" lengthAdjust="spacingAndGlyphs"><tspan class="it">E. astringens</tspan> clade</text>
<rect x="1089" y="1292" width="20" height="20" fill="#c6e1a2"/>
<text class="lg" x="1112" y="1310" textLength="150" lengthAdjust="spacingAndGlyphs"><tspan class="it">E. moschata</tspan> clade</text>
<rect x="85" y="1326" width="20" height="20" fill="#f49db3"/>
<text class="lg it" x="110" y="1344" textLength="74" lengthAdjust="spacingAndGlyphs">Excelsae</text>
<rect x="280" y="1326" width="20" height="20" fill="#a185bf"/>
<text class="lg it" x="305" y="1344" textLength="142" lengthAdjust="spacingAndGlyphs">Schizocalomyrtus</text>
<rect x="457" y="1326" width="20" height="20" fill="#f59478"/>
<text class="lg it" x="483" y="1344" textLength="90" lengthAdjust="spacingAndGlyphs">Phyllocalyx</text>
<rect x="589" y="1326" width="20" height="20" fill="#fff59d"/>
<text class="lg it" x="614" y="1344" textLength="85" lengthAdjust="spacingAndGlyphs">Speciosae</text>
<rect x="724" y="1326" width="20" height="20" fill="#9ed4b4"/>
<text class="lg" x="749" y="1344" textLength="133" lengthAdjust="spacingAndGlyphs">Caribbean clade</text>
<rect x="895" y="1326" width="20" height="20" fill="#55805c"/>
<text class="lg" x="919" y="1344" textLength="142" lengthAdjust="spacingAndGlyphs"><tspan class="it">E. umbrosa</tspan> clade</text>
</g>

<g id="caption">
<text class="cap" x="25" y="1416" textLength="1302" lengthAdjust="spacingAndGlyphs"><tspan font-weight="bold">FIGURE 3 |</tspan> Phylogenetic reconstructions of <tspan class="it">Eugenia</tspan> based on the 239 nuclear intron regions targeted with the Angiosperm-353 probes. <tspan font-weight="bold">(A)</tspan> MSC tree using Astral</text>
<text class="cap" x="25" y="1441" textLength="1295" lengthAdjust="spacingAndGlyphs">with support values shown at nodes as local pp. <tspan font-weight="bold">(B)</tspan> Concatenated partitioned tree with ML support shown at nodes as circles (see legend) and additional tests of</text>
<text class="cap" x="25" y="1466" textLength="1264" lengthAdjust="spacingAndGlyphs">branch support values above branches (aBayes/SH-aLRT). Colored legend corresponds to the colored boxes (clades of <tspan class="it">Eugenia</tspan> sect. <tspan class="it">Umbellatae</tspan> are circled).</text>
</g>
</svg>
